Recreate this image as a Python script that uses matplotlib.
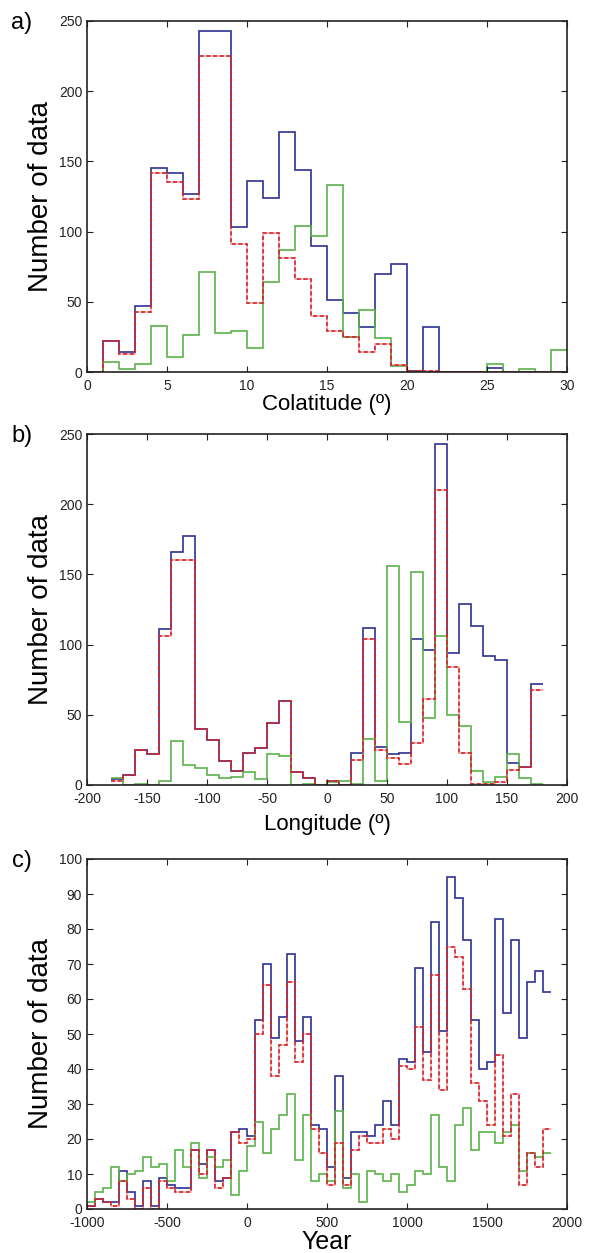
import matplotlib
matplotlib.use("Agg")
import matplotlib.pyplot as plt
import numpy as np

plt.rcParams['font.family'] = ['Liberation Sans', 'DejaVu Sans']
plt.rcParams['axes.unicode_minus'] = False

# a) colatitude, 1 degree bins from 0 to 30
colat_edges = np.arange(0, 31, 1)
colat_blue = [0, 22, 14, 47, 145, 142, 127, 243, 243, 103, 136, 124, 171, 144, 90,
              51, 42, 32, 70, 77, 1, 32, 0, 0, 0, 3, 0, 0, 0, 0]
colat_red = [0, 22, 13, 43, 142, 135, 123, 225, 225, 91, 49, 99, 81, 66, 40,
             29, 25, 14, 20, 5, 1, 1, 0, 0, 0, 0, 0, 0, 0, 0]
colat_green = [0, 7, 2, 6, 33, 11, 26, 71, 28, 29, 17, 64, 87, 104, 97,
               133, 25, 44, 24, 4, 0, 0, 0, 0, 0, 6, 0, 2, 0, 16]

# b) longitude, 10 degree bins from -180 to 180
lon_edges = np.arange(-180, 181, 10)
lon_blue = [4, 7, 25, 22, 111, 166, 177, 40, 32, 17, 10, 23, 26, 44, 60, 9, 5, 0,
            3, 0, 23, 112, 27, 22, 23, 104, 96, 243, 94, 129, 113, 92, 89, 16, 13, 72]
lon_red = [3, 7, 25, 22, 106, 160, 160, 40, 32, 17, 10, 23, 26, 44, 60, 9, 5, 0,
           3, 0, 18, 104, 25, 19, 15, 30, 61, 210, 84, 23, 1, 1, 2, 11, 13, 68]
lon_green = [5, 0, 1, 0, 3, 31, 14, 12, 7, 5, 6, 9, 4, 22, 21, 0, 1, 0,
             2, 3, 1, 33, 3, 156, 45, 152, 48, 106, 50, 42, 10, 2, 6, 22, 5, 1]

# c) age, 50 year bins from -1000 to 1900
year_edges = np.arange(-1000, 1901, 50)
year_blue = [1, 3, 2, 2, 11, 5, 1, 8, 1, 9, 7, 6, 6, 17, 13, 17, 8, 9, 22, 23,
             21, 54, 70, 49, 55, 73, 48, 55, 24, 23, 12, 38, 9, 22, 22, 21, 24, 31, 24, 43,
             42, 69, 45, 82, 51, 95, 89, 77, 54, 40, 42, 83, 56, 77, 49, 65, 68, 62]
year_red = [1, 3, 2, 1, 8, 3, 0, 6, 0, 8, 6, 5, 5, 17, 10, 17, 6, 9, 22, 19,
            20, 50, 64, 38, 47, 65, 42, 50, 23, 16, 7, 19, 7, 17, 21, 19, 19, 23, 20, 41,
            40, 52, 37, 67, 34, 75, 72, 63, 36, 31, 24, 44, 21, 33, 7, 16, 12, 23]
year_green = [2, 5, 6, 12, 8, 10, 11, 15, 12, 13, 8, 17, 12, 19, 9, 15, 12, 14, 4, 11,
              18, 25, 16, 23, 27, 33, 14, 27, 8, 10, 8, 28, 6, 10, 2, 11, 10, 8, 10, 5,
              7, 11, 10, 27, 12, 8, 24, 29, 17, 22, 22, 19, 22, 24, 11, 16, 15, 16]

BLUE = '#2e3192'
RED = '#d7262b'
GREEN = '#5cb14a'


def draw(ax, edges, blue, red, green):
    ax.stairs(blue, edges, baseline=None, color=BLUE, lw=1.2)
    ax.stairs(green, edges, baseline=None, color=GREEN, lw=1.2)
    ax.stairs(red, edges, baseline=None, color=RED, lw=1.2, alpha=0.35)
    ax.stairs(red, edges, baseline=None, color=RED, lw=1.2, linestyle=(0, (2.5, 1.5)))
    ax.tick_params(direction='in', top=True, right=True, length=4, labelsize=10,
                   colors='#222222')
    ax.tick_params(axis='x', pad=5)
    for s in ax.spines.values():
        s.set_linewidth(1.2)
        s.set_color('#222222')


fig = plt.figure(figsize=(5.9, 12.53), dpi=100)
W, H = 590, 1253


def box(top, bottom):
    return [87 / W, 1 - bottom / H, 480 / W, (bottom - top) / H]


ax1 = fig.add_axes(box(21, 372))
draw(ax1, colat_edges, colat_blue, colat_red, colat_green)
ax1.set_xlim(0, 30)
ax1.set_ylim(0, 250)
ax1.set_xticks(range(0, 31, 5))
ax1.set_yticks(range(0, 251, 50))
ax1.set_xlabel('Colatitude (º)', fontsize=16)
ax1.xaxis.set_label_coords(0.5, -0.063)

ax2 = fig.add_axes(box(434, 785))
draw(ax2, lon_edges, lon_blue, lon_red, lon_green)
ax2.set_xlim(-200, 200)
ax2.set_ylim(0, 250)
ax2.set_xticks(range(-200, 201, 50))
ax2.set_yticks(range(0, 251, 50))
ax2.set_xlabel('Longitude (º)', fontsize=16)
ax2.xaxis.set_label_coords(0.5, -0.082)

ax3 = fig.add_axes(box(859, 1209))
draw(ax3, year_edges, year_blue, year_red, year_green)
ax3.set_xlim(-1000, 2000)
ax3.set_ylim(0, 100)
ax3.set_xticks(range(-1000, 2001, 500))
ax3.set_yticks(range(0, 101, 10))
ax3.set_xlabel('Year', fontsize=18)
ax3.xaxis.set_label_coords(0.5, -0.06)

for ax, lab in [(ax1, 'a)'), (ax2, 'b)'), (ax3, 'c)')]:
    ax.set_ylabel('Number of data', fontsize=20)
    ax.yaxis.set_label_coords(-0.068, 0.5)
    fig.text(22 / W, ax.get_position().y1 - 2 / H, lab, fontsize=17,
             ha='center', va='center')

fig.savefig('out.png', dpi=100)
plt.close()
